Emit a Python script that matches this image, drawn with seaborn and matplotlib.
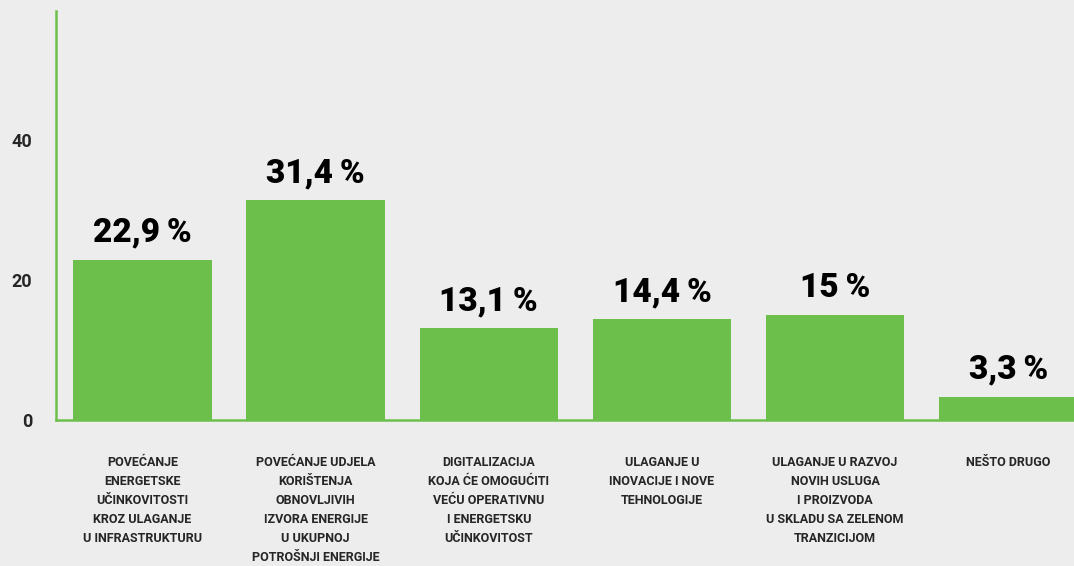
import seaborn as sns
import pandas as pd
import matplotlib.pyplot as plt

# Category labels (as wrapped in the original chart)
categories = [
    "POVEĆANJE\nENERGETSKE\nUČINKOVITOSTI\nKROZ ULAGANJE\nU INFRASTRUKTURU",
    "POVEĆANJE UDJELA\nKORIŠTENJA\nOBNOVLJIVIH\nIZVORA ENERGIJE\nU UKUPNOJ\nPOTROŠNJI ENERGIJE",
    "DIGITALIZACIJA\nKOJA ĆE OMOGUĆITI\nVEĆU OPERATIVNU\nI ENERGETSKU\nUČINKOVITOST",
    "ULAGANJE U\nINOVACIJE I NOVE\nTEHNOLOGIJE",
    "ULAGANJE U RAZVOJ\nNOVIH USLUGA\nI PROIZVODA\nU SKLADU SA ZELENOM\nTRANZICIJOM",
    "NEŠTO DRUGO",
]
values = [22.9, 31.4, 13.1, 14.4, 15.0, 3.3]
value_labels = ["22,9\u2009%", "31,4\u2009%", "13,1\u2009%", "14,4\u2009%", "15\u2009%", "3,3\u2009%"]
y_ticks = [0, 20, 40]

df = pd.DataFrame({"Category": categories, "Value": values})

bg = "#ededed"
green = "#6dbf4b"

sns.set_style("white")
plt.rcParams["font.family"] = ["Roboto", "DejaVu Sans"]

fig = plt.figure(figsize=(10.74, 5.66), dpi=100, facecolor=bg)
ax = fig.add_axes([56 / 1074, 1 - 420 / 566, 1 - 56 / 1074, 409 / 566])
ax.set_facecolor(bg)

sns.barplot(data=df, x="Category", y="Value", color=green, saturation=1,
            width=0.8, linewidth=0, ax=ax)

# value labels above bars
ax.bar_label(ax.containers[0], labels=value_labels, padding=8,
             fontsize=24, fontweight=900, color="black")

ax.set_xlim(-0.5, 5.38)
ax.set_ylim(0, 58.4)
ax.set_yticks(y_ticks)
ax.set_yticklabels([str(t) for t in y_ticks], fontsize=13, fontweight="bold")
ax.set_xlabel("")
ax.set_ylabel("")
ax.tick_params(axis="both", length=0)
ax.tick_params(axis="y", pad=17)
ax.tick_params(axis="x", pad=26)
for lbl in ax.get_xticklabels():
    lbl.set_fontsize(9)
    lbl.set_fontweight("bold")
    lbl.set_linespacing(1.6)
    lbl.set_verticalalignment("top")

for side in ["top", "right"]:
    ax.spines[side].set_visible(False)
for side in ["left", "bottom"]:
    ax.spines[side].set_color(green)
    ax.spines[side].set_linewidth(1.8)

plt.savefig("out.png", dpi=100, facecolor=bg)
